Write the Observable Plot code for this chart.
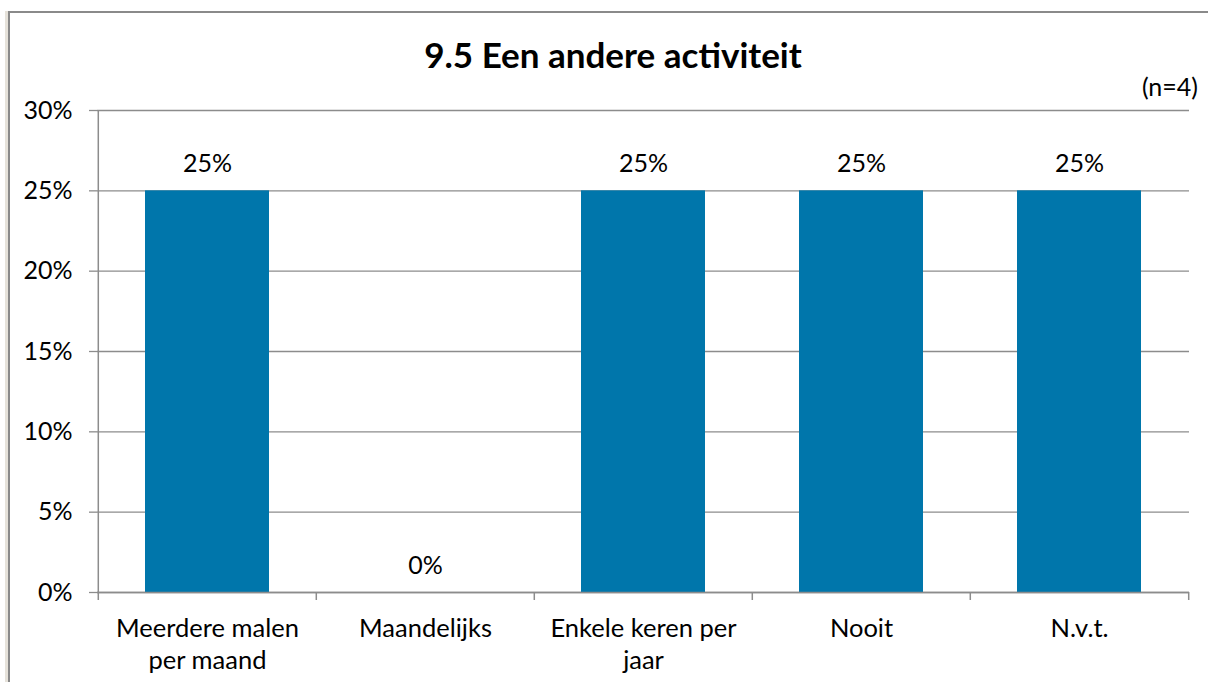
<!DOCTYPE html>
<html>
<head>
<meta charset="utf-8">
<script src="https://cdn.jsdelivr.net/npm/d3@7"></script>
<script src="https://cdn.jsdelivr.net/npm/@observablehq/plot@0.6"></script>
<style>
  html, body { margin: 0; padding: 0; background: #fff; }
  #wrap { position: relative; width: 1208px; height: 682px; overflow: hidden; background: #fff; font-family: Lato, "DejaVu Sans", sans-serif; }
  #strip { position: absolute; left: 5px; top: 11px; width: 3px; height: 700px; background: #e6e2da; }
  #frame { position: absolute; left: 8px; top: 11px; width: 1400px; height: 900px; border-left: 2px solid #8a8a8a; border-top: 2px solid #8a8a8a; }
  #title { position: absolute; left: 0; width: 1226px; top: 33px; text-align: center; font-weight: bold; font-size: 35px; color: #000; line-height: 42px; }
  #n { position: absolute; right: 10px; top: 71px; font-size: 25px; color: #000; line-height: 30px; }
  #chart { position: absolute; left: 0; top: 0; }
</style>
</head>
<body>
<div id="wrap">
  <div id="strip"></div>
  <div id="frame"></div>
  <div id="chart"></div>
  <div id="title">9.5 Een andere activiteit</div>
  <div id="n">(n=4)</div>
</div>
<script>
const categories = ["Meerdere malen\nper maand", "Maandelijks", "Enkele keren per\njaar", "Nooit", "N.v.t."];
const values = [0.25, 0, 0.25, 0.25, 0.25];
const valueLabels = ["25%", "0%", "25%", "25%", "25%"];
const yTicks = [0, 0.05, 0.10, 0.15, 0.20, 0.25, 0.30];
const yTickLabels = ["0%", "5%", "10%", "15%", "20%", "25%", "30%"];

const data = categories.map((c, i) => ({cat: c, value: values[i], label: valueLabels[i]}));

const W = 1208, H = 682, ML = 97, MR = 19, MT = 110, MB = 90;
const step = (W - ML - MR) / categories.length;
const grid = "#8c8c8c";

const chart = Plot.plot({
  width: W, height: H,
  marginLeft: ML, marginRight: MR, marginTop: MT, marginBottom: MB,
  style: {fontFamily: "Lato, 'DejaVu Sans', sans-serif", fontSize: "25px", color: "#000", background: "transparent"},
  x: {domain: categories, paddingInner: 0.43, paddingOuter: 0.215, label: null},
  y: {domain: [0, 0.3], label: null},
  marks: [
    Plot.gridY(yTicks, {stroke: grid, strokeOpacity: 1, strokeWidth: 1.3}),
    Plot.barY(data, {x: "cat", y: "value", fill: "#0076ab"}),
    Plot.ruleY([0], {stroke: grid, strokeWidth: 1.5}),
    Plot.ruleX([categories[0]], {dx: -step / 2, insetBottom: -8, stroke: grid, strokeWidth: 1.5}),
    Plot.ruleX(categories.slice(1), {dx: -step / 2, y1: 0, y2: 0, insetBottom: -8, stroke: grid, strokeWidth: 1.5}),
    Plot.ruleX([categories[categories.length - 1]], {dx: step / 2, y1: 0, y2: 0, insetBottom: -8, stroke: grid, strokeWidth: 1.5}),
    Plot.axisY(yTicks, {tickSize: 8, tickPadding: 17, stroke: grid, strokeWidth: 1.3, tickFormat: (d, i) => yTickLabels[i], fill: "#000", fontSize: 25, label: null}),
    Plot.axisX({tickSize: 0, tickPadding: 21, fill: "#000", fontSize: 25.5, lineHeight: 1.27, label: null}),
    Plot.text(data, {x: "cat", y: "value", text: "label", dy: -27, fill: "#000", fontSize: 25})
  ]
});
document.getElementById("chart").appendChild(chart);
</script>
</body>
</html>
